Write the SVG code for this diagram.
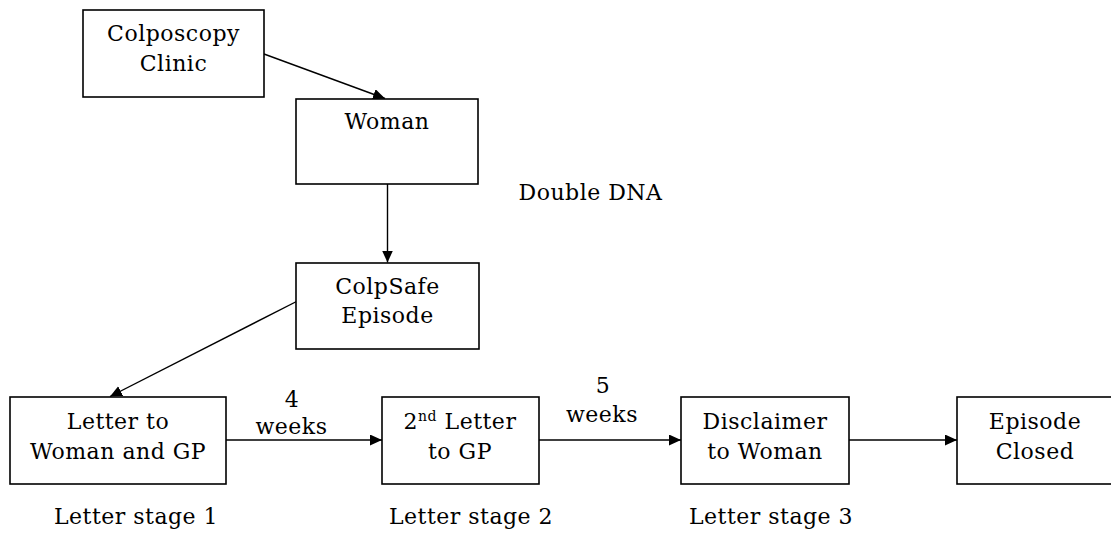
<svg xmlns="http://www.w3.org/2000/svg" width="1111" height="536" viewBox="0 0 1111 536">
  <style>
    .box { fill: #ffffff; stroke: #000000; stroke-width: 1.6; }
    .lbl { font-family: "DejaVu Serif", "Liberation Serif", serif; font-size: 22px; letter-spacing: 0.5px; fill: #000000; text-anchor: middle; }
    .edge { stroke: #000000; stroke-width: 1.4; fill: none; marker-end: url(#arrow); }
  </style>
  <defs>
    <marker id="arrow" markerUnits="userSpaceOnUse" markerWidth="13" markerHeight="12" refX="12" refY="5.5" orient="auto">
      <path d="M0,0 L12,5.5 L0,11 z" fill="#000000"/>
    </marker>
  </defs>
  <rect width="1111" height="536" fill="#ffffff"/>

  <!-- connectors -->
  <g id="connectors">
    <line class="edge" x1="264" y1="54" x2="385" y2="98.5"/>
    <line class="edge" x1="387.5" y1="184" x2="387.5" y2="262.5"/>
    <line class="edge" x1="296.5" y1="301.5" x2="110" y2="396.5"/>
    <line class="edge" x1="226" y1="440" x2="382" y2="440"/>
    <line class="edge" x1="539" y1="440" x2="681" y2="440"/>
    <line class="edge" x1="849" y1="440" x2="957" y2="440"/>
  </g>

  <!-- nodes -->
  <g id="colposcopy-clinic">
    <rect class="box" x="83" y="10" width="181" height="87"/>
    <text class="lbl" x="173.5" y="41">Colposcopy</text>
    <text class="lbl" x="173.5" y="71">Clinic</text>
  </g>
  <g id="woman">
    <rect class="box" x="296" y="99" width="182" height="85"/>
    <text class="lbl" x="387" y="129">Woman</text>
  </g>
  <g id="colpsafe-episode">
    <rect class="box" x="296" y="263" width="183" height="86"/>
    <text class="lbl" x="387.5" y="294">ColpSafe</text>
    <text class="lbl" x="387.5" y="323">Episode</text>
  </g>
  <g id="letter-stage-1">
    <rect class="box" x="10" y="397" width="216" height="87"/>
    <text class="lbl" x="118" y="428.5">Letter to</text>
    <text class="lbl" x="118" y="458.5">Woman and GP</text>
  </g>
  <g id="letter-stage-2">
    <rect class="box" x="382" y="397" width="157" height="87"/>
    <text class="lbl" x="460" y="428.5">2<tspan font-size="14" dy="-8">nd</tspan><tspan dy="8"> Letter</tspan></text>
    <text class="lbl" x="460" y="458.5">to GP</text>
  </g>
  <g id="letter-stage-3">
    <rect class="box" x="681" y="397" width="168" height="87"/>
    <text class="lbl" x="765" y="428.5">Disclaimer</text>
    <text class="lbl" x="765" y="458.5">to Woman</text>
  </g>
  <g id="episode-closed">
    <rect class="box" x="957" y="397" width="156" height="87"/>
    <text class="lbl" x="1035" y="428.5">Episode</text>
    <text class="lbl" x="1035" y="458.5">Closed</text>
  </g>

  <!-- free labels -->
  <g id="labels">
    <text class="lbl" x="590.5" y="200">Double DNA</text>
    <text class="lbl" x="292" y="407">4</text>
    <text class="lbl" x="291.5" y="433.5">weeks</text>
    <text class="lbl" x="603" y="392.5">5</text>
    <text class="lbl" x="602" y="422">weeks</text>
    <text class="lbl" x="136" y="524">Letter stage 1</text>
    <text class="lbl" x="471" y="524">Letter stage 2</text>
    <text class="lbl" x="771" y="524">Letter stage 3</text>
  </g>
</svg>
